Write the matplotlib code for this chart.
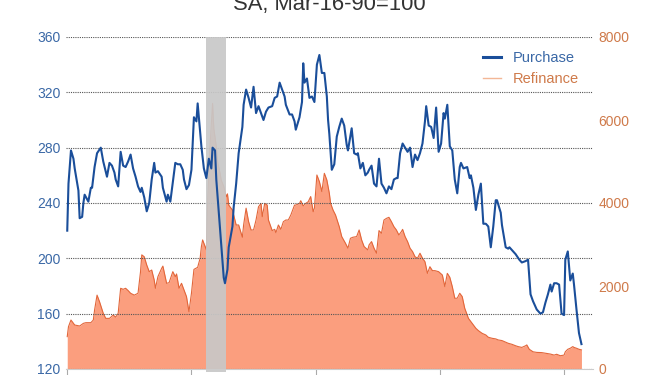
import matplotlib
matplotlib.use("Agg")
import matplotlib.pyplot as plt
from matplotlib.lines import Line2D

plt.rcParams['font.family'] = ['Liberation Sans', 'DejaVu Sans']

# ---- data (decimal years) ----
purchase_t = [2019.00, 2019.01, 2019.03, 2019.05, 2019.06, 2019.09, 2019.10, 2019.12, 2019.13, 2019.14,
              2019.17, 2019.19, 2019.20, 2019.22, 2019.24, 2019.27, 2019.29, 2019.32, 2019.34, 2019.36,
              2019.38, 2019.39, 2019.41, 2019.43, 2019.45, 2019.47, 2019.49, 2019.51, 2019.53, 2019.55,
              2019.57, 2019.59, 2019.60, 2019.62, 2019.64, 2019.66, 2019.68, 2019.70, 2019.71, 2019.73,
              2019.76, 2019.77, 2019.80, 2019.81, 2019.83, 2019.85, 2019.87, 2019.89, 2019.91, 2019.93,
              2019.94, 2019.96, 2019.98, 2020.00, 2020.02, 2020.04, 2020.05, 2020.08, 2020.10, 2020.12,
              2020.14, 2020.16, 2020.17, 2020.19, 2020.20, 2020.22, 2020.24, 2020.26, 2020.27, 2020.29,
              2020.30, 2020.33, 2020.34, 2020.36, 2020.38, 2020.41, 2020.42, 2020.44, 2020.46, 2020.48,
              2020.50, 2020.52, 2020.54, 2020.56, 2020.58, 2020.60, 2020.62, 2020.65, 2020.67, 2020.69,
              2020.71, 2020.73, 2020.75, 2020.76, 2020.79, 2020.81, 2020.83, 2020.84, 2020.87, 2020.89,
              2020.90, 2020.91, 2020.93, 2020.95, 2020.97, 2020.99, 2021.01, 2021.03, 2021.05, 2021.07,
              2021.09, 2021.10, 2021.11, 2021.13, 2021.15, 2021.17, 2021.19, 2021.21, 2021.23, 2021.25,
              2021.26, 2021.29, 2021.31, 2021.33, 2021.34, 2021.36, 2021.38, 2021.40, 2021.42, 2021.43,
              2021.45, 2021.47, 2021.49, 2021.51, 2021.53, 2021.55, 2021.57, 2021.59, 2021.61, 2021.63,
              2021.65, 2021.66, 2021.68, 2021.70, 2021.72, 2021.74, 2021.76, 2021.78, 2021.80, 2021.82,
              2021.84, 2021.86, 2021.88, 2021.89, 2021.91, 2021.93, 2021.95, 2021.97, 2021.99, 2022.01,
              2022.03, 2022.04, 2022.06, 2022.08, 2022.10, 2022.12, 2022.14, 2022.16, 2022.17, 2022.19,
              2022.22, 2022.24, 2022.25, 2022.27, 2022.29, 2022.31, 2022.33, 2022.35, 2022.37, 2022.39,
              2022.41, 2022.43, 2022.45, 2022.46, 2022.49, 2022.50, 2022.53, 2022.55, 2022.56, 2022.58,
              2022.61, 2022.64, 2022.66, 2022.69, 2022.71, 2022.72, 2022.73, 2022.75, 2022.78, 2022.81,
              2022.83, 2022.85, 2022.87, 2022.89, 2022.90, 2022.92, 2022.94, 2022.96, 2022.98, 2023.00,
              2023.01, 2023.03, 2023.05, 2023.07, 2023.08, 2023.10, 2023.12, 2023.14]
purchase_v = [220, 254, 278, 272, 265, 249, 229, 230, 240, 246,
              241, 251, 251, 266, 276, 280, 270, 259, 269, 267,
              262, 257, 252, 277, 267, 266, 270, 275, 265, 259,
              252, 248, 251, 244, 234, 240, 257, 269, 262, 263,
              259, 251, 241, 246, 241, 255, 269, 268, 268, 264,
              257, 250, 253, 264, 302, 299, 312, 281, 265, 258,
              272, 265, 280, 278, 257, 233, 208, 186, 182, 192,
              208, 223, 237, 254, 276, 295, 311, 322, 316, 309,
              324, 305, 310, 305, 300, 306, 309, 310, 316, 317,
              327, 322, 317, 311, 304, 304, 299, 293, 302, 313,
              341, 327, 330, 316, 317, 313, 340, 347, 334, 334,
              317, 300, 290, 264, 268, 288, 295, 301, 296, 282,
              278, 294, 276, 275, 276, 265, 269, 260, 262, 264,
              267, 254, 252, 272, 254, 251, 247, 252, 250, 257,
              258, 258, 276, 283, 280, 277, 280, 266, 275, 271,
              276, 283, 299, 310, 296, 295, 287, 309, 277, 283,
              305, 301, 311, 281, 278, 257, 247, 266, 269, 265,
              266, 258, 260, 251, 235, 246, 254, 225, 225, 223,
              208, 223, 242, 242, 233, 224, 208, 207, 208, 206,
              203, 199, 197, 198, 199, 187, 174, 169, 163, 160,
              161, 168, 174, 181, 176, 182, 182, 181, 160, 159,
              199, 205, 184, 189, 181, 163, 146, 138]

refi_t = [2019.00, 2019.01, 2019.03, 2019.06, 2019.10, 2019.13, 2019.15, 2019.19, 2019.21, 2019.22,
          2019.24, 2019.26, 2019.29, 2019.31, 2019.34, 2019.37, 2019.39, 2019.41, 2019.43, 2019.45,
          2019.47, 2019.49, 2019.51, 2019.54, 2019.57, 2019.59, 2019.60, 2019.62, 2019.64, 2019.66,
          2019.68, 2019.70, 2019.71, 2019.73, 2019.76, 2019.77, 2019.80, 2019.82, 2019.85, 2019.87,
          2019.88, 2019.90, 2019.92, 2019.94, 2019.96, 2019.98, 2020.00, 2020.02, 2020.05, 2020.07,
          2020.08, 2020.09, 2020.12, 2020.13, 2020.15, 2020.17, 2020.18, 2020.20, 2020.21, 2020.23,
          2020.24, 2020.26, 2020.28, 2020.29, 2020.30, 2020.33, 2020.34, 2020.36, 2020.38, 2020.41,
          2020.42, 2020.44, 2020.46, 2020.48, 2020.50, 2020.52, 2020.54, 2020.56, 2020.57, 2020.59,
          2020.61, 2020.62, 2020.65, 2020.67, 2020.68, 2020.70, 2020.72, 2020.74, 2020.76, 2020.78,
          2020.80, 2020.83, 2020.84, 2020.87, 2020.88, 2020.90, 2020.92, 2020.94, 2020.96, 2020.98,
          2020.99, 2021.01, 2021.03, 2021.05, 2021.07, 2021.09, 2021.11, 2021.12, 2021.14, 2021.16,
          2021.19, 2021.21, 2021.24, 2021.26, 2021.28, 2021.30, 2021.33, 2021.35, 2021.37, 2021.39,
          2021.42, 2021.43, 2021.45, 2021.47, 2021.49, 2021.51, 2021.53, 2021.55, 2021.57, 2021.59,
          2021.61, 2021.63, 2021.65, 2021.67, 2021.69, 2021.70, 2021.72, 2021.74, 2021.76, 2021.78,
          2021.80, 2021.82, 2021.84, 2021.86, 2021.88, 2021.90, 2021.92, 2021.94, 2021.96, 2021.99,
          2022.02, 2022.04, 2022.06, 2022.08, 2022.10, 2022.12, 2022.14, 2022.16, 2022.18, 2022.20,
          2022.23, 2022.26, 2022.29, 2022.31, 2022.34, 2022.37, 2022.39, 2022.42, 2022.45, 2022.47,
          2022.50, 2022.53, 2022.55, 2022.58, 2022.61, 2022.63, 2022.66, 2022.69, 2022.70, 2022.72,
          2022.75, 2022.78, 2022.82, 2022.86, 2022.89, 2022.92, 2022.94, 2022.97, 2023.00, 2023.01,
          2023.03, 2023.05, 2023.07, 2023.08, 2023.10, 2023.12, 2023.14]
refi_v = [780, 1020, 1180, 1060, 1036, 1100, 1116, 1116, 1180, 1420,
          1780, 1620, 1340, 1220, 1220, 1300, 1250, 1340, 1945, 1920,
          1945, 1890, 1825, 1780, 1825, 2345, 2750, 2705, 2505, 2345,
          2385, 2145, 1945, 2225, 2425, 2480, 2065, 2080, 2345, 2225,
          2290, 1945, 2065, 1905, 1745, 1380, 1825, 2400, 2450, 2670,
          2950, 3110, 2870, 4000, 5400, 6400, 5800, 5360, 5000, 4720,
          4550, 4400, 4150, 4220, 3950, 3830, 3710, 3470, 3470, 3175,
          3470, 3875, 3550, 3350, 3350, 3590, 3910, 3990, 3670, 3990,
          3950, 3590, 3335, 3365, 3285, 3470, 3365, 3550, 3590, 3590,
          3710, 3950, 3950, 3990, 4055, 3930, 3990, 4030, 4155, 3790,
          3875, 4675, 4515, 4275, 4715, 4555, 4235, 3995, 3830, 3710,
          3430, 3190, 3030, 2910, 3150, 3175, 3190, 3350, 3110, 2950,
          2870, 2990, 3070, 2910, 2790, 3335, 3270, 3590, 3630, 3655,
          3550, 3430, 3350, 3230, 3310, 3365, 3190, 3070, 2910, 2830,
          2705, 2670, 2790, 2670, 2585, 2305, 2465, 2370, 2370, 2345,
          2265, 1985, 2305, 2210, 1985, 1705, 1705, 1825, 1745, 1465,
          1220, 1100, 980, 925, 860, 820, 765, 740, 725, 700,
          685, 645, 620, 595, 560, 540, 520, 560, 580, 475,
          415, 400, 395, 375, 360, 335, 355, 320, 335, 415,
          475, 500, 540, 520, 500, 475, 460]

recession = (2020.12, 2020.28)
year_ticks = [2019, 2020, 2021, 2022, 2023]
left_ticks = [120, 160, 200, 240, 280, 320, 360]
right_ticks = [0, 2000, 4000, 6000, 8000]
title = "SA, Mar-16-90=100"

BLUE = "#1a4e9a"
BLUE_TXT = "#3a68a6"
ORANGE_FILL = "#fb9e7e"
ORANGE_EDGE = "#e2663a"
ORANGE_TXT = "#cf7a4a"

fig = plt.figure(figsize=(6.66, 3.75), dpi=100)
ax = fig.add_axes([66/666, 1-369/375, (593-66)/666, (369-37)/375])
ax2 = ax.twinx()
ax.set_zorder(ax2.get_zorder() + 1)
ax.patch.set_visible(False)

# Refinance area on the right axis (lowest layer)
ax2.fill_between(refi_t, 0, refi_v, color=ORANGE_FILL, lw=0, zorder=1)
ax2.plot(refi_t, refi_v, color=ORANGE_EDGE, lw=0.8, zorder=2)
ax2.set_ylim(0, 8000)
ax2.set_yticks(right_ticks)
ax2.tick_params(axis='y', length=0, labelsize=10, labelcolor=ORANGE_TXT, pad=4)

# Purchase axis on top
ax.set_ylim(120, 360)
ax.set_yticks(left_ticks)
ax.tick_params(axis='y', length=0, labelsize=10, labelcolor=BLUE_TXT, pad=4)
ax.set_axisbelow(True)
ax.yaxis.grid(True, color='#555555', linestyle=(0, (1, 1)), lw=0.8)
ax.axvspan(recession[0], recession[1], ymin=-0.01, ymax=1, color='#c8c8c8', alpha=0.92,
           lw=0, zorder=2, clip_on=False)
ax.plot(purchase_t, purchase_v, color=BLUE, lw=1.5, zorder=3)

ax.set_xlim(2018.99, 2019 + 527/124.5)
ax.set_xticks(year_ticks)
ax.set_xticklabels([])
ax.tick_params(axis='x', length=4, color='#aaaaaa', direction='out')
ax2.tick_params(axis='x', length=0)

for a in (ax, ax2):
    for s in ('left', 'right', 'top'):
        a.spines[s].set_visible(False)
ax2.spines['bottom'].set_visible(False)
ax.spines['bottom'].set_color('#cccccc')
ax.spines['bottom'].set_linewidth(0.8)

handles = [Line2D([], [], color=BLUE, lw=2.2),
           Line2D([], [], color='#f3b796', lw=1.0)]
leg = ax.legend(handles, ['Purchase', 'Refinance'], loc='upper left',
                bbox_to_anchor=(470/666, 1-38/375), bbox_transform=fig.transFigure,
                frameon=False, fontsize=10.5, handlelength=1.25, handletextpad=0.8,
                labelspacing=0.45, labelcolor=[BLUE_TXT, ORANGE_TXT])

fig.text(0.495, 1 - 10/375, title, ha='center', va='baseline', fontsize=15.8, color='#333333')

fig.savefig("out.png", dpi=100)
